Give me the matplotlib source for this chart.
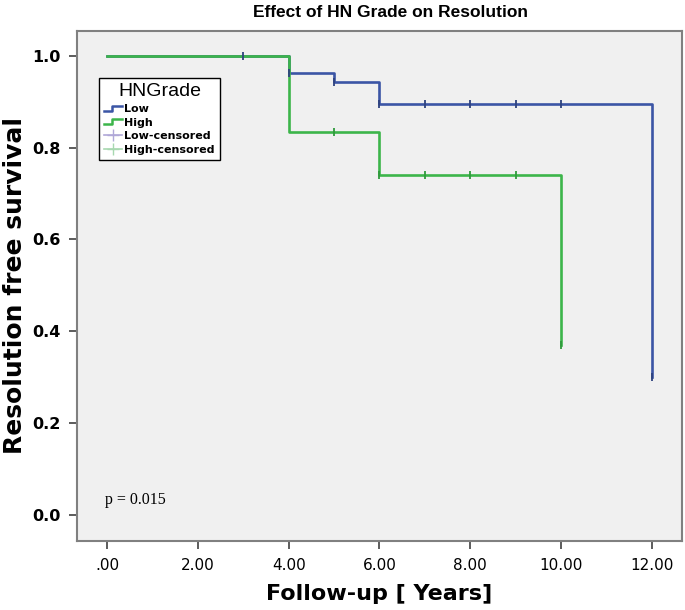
import numpy as np
import matplotlib
matplotlib.use("Agg")
import matplotlib.pyplot as plt
from matplotlib.lines import Line2D
from matplotlib.legend_handler import HandlerBase

# Kaplan-Meier steps
low_t = [0, 4, 5, 6, 12]
low_s = [1.0, 0.963, 0.943, 0.895, 0.30]
high_t = [0, 4, 6, 10]
high_s = [1.0, 0.833, 0.741, 0.37]

# censored times
low_cens = [3, 4, 5, 6, 7, 8, 9, 10, 12]
high_cens = [5, 6, 7, 8, 9, 10]

xticks = [0, 2, 4, 6, 8, 10, 12]
xtick_labels = [".00", "2.00", "4.00", "6.00", "8.00", "10.00", "12.00"]
yticks = [0.0, 0.2, 0.4, 0.6, 0.8, 1.0]

blue = "#3b55a5"
green = "#3cb54a"


def surv_at(t, times, surv):
    idx = np.searchsorted(times, t, side="right") - 1
    return np.asarray(surv)[idx]


class StepHandler(HandlerBase):
    def create_artists(self, legend, orig, xd, yd, w, h, fontsize, trans):
        xs = [xd, xd + w * 0.45, xd + w * 0.45, xd + w]
        ys = [yd + h * 0.15, yd + h * 0.15, yd + h * 0.8, yd + h * 0.8]
        ln = Line2D(xs, ys, color=orig.get_color(), lw=orig.get_linewidth())
        ln.set_transform(trans)
        return [ln]


fig = plt.figure(figsize=(6.85, 6.10), dpi=100)
ax = fig.add_axes([0.1124, 0.1131, 0.8832, 0.8361])
ax.set_facecolor("#f0f0f0")

ax.step(low_t, low_s, where="post", color=blue, lw=1.9, zorder=3)
ax.step(high_t, high_s, where="post", color=green, lw=1.9, zorder=4)

ax.plot(low_cens, surv_at(low_cens, low_t, low_s), ls="none", marker="|",
        ms=6, mew=1.3, color="#2e427f", zorder=5)
ax.plot(high_cens, surv_at(high_cens, high_t, high_s), ls="none", marker="|",
        ms=6, mew=1.3, color="#2f9a3c", zorder=5)

ax.set_xlim(-0.66, 12.66)
ax.set_ylim(-0.057, 1.054)
ax.set_xticks(xticks)
ax.set_xticklabels(xtick_labels, family="DejaVu Sans", fontsize=11)
ax.set_yticks(yticks)
ax.set_yticklabels(["%.1f" % v for v in yticks], family="DejaVu Sans",
                   fontsize=11.5, fontweight="bold")
ax.tick_params(direction="out", length=6, width=1.2, color="#404040", pad=6)

for sp in ax.spines.values():
    sp.set_color("#808080")
    sp.set_linewidth(1.5)

ax.set_title("Effect of HN Grade on Resolution", family="Liberation Sans",
             fontsize=12.5, fontweight="bold", x=0.518, pad=10)
ax.set_xlabel("Follow-up [ Years]", family="DejaVu Sans", fontsize=16,
              fontweight="bold")
ax.xaxis.set_label_coords(0.5, -0.084)
ax.set_ylabel("Resolution free survival", family="DejaVu Sans", fontsize=18,
              fontweight="bold")
ax.yaxis.set_label_coords(-0.082, 0.5)

ax.text(0.046, 0.073, "p = 0.015", transform=ax.transAxes,
        family="Liberation Serif", fontsize=11.5)

# legend
h_low = Line2D([], [], color=blue, lw=1.8)
h_high = Line2D([], [], color=green, lw=1.8)
h_lowc = Line2D([], [], color="#b0a8d8", lw=1.2, marker="+", ms=8)
h_highc = Line2D([], [], color="#a8d8b0", lw=1.2, marker="+", ms=8)
leg = ax.legend([h_low, h_high, h_lowc, h_highc],
                ["Low", "High", "Low-censored", "High-censored"],
                handler_map={h_low: StepHandler(), h_high: StepHandler()},
                title="HNGrade", loc="upper left",
                bbox_to_anchor=(0.036, 0.908), fancybox=False,
                framealpha=1, edgecolor="black", handlelength=1.6,
                handletextpad=0.2, labelspacing=0.32, borderpad=0.5,
                borderaxespad=0,
                prop={"family": "DejaVu Sans", "size": 8, "weight": "bold"})
leg.get_title().set_fontsize(14)
leg.get_title().set_family("Liberation Sans")
leg.get_frame().set_linewidth(1.0)

fig.savefig("out.png", dpi=100)
